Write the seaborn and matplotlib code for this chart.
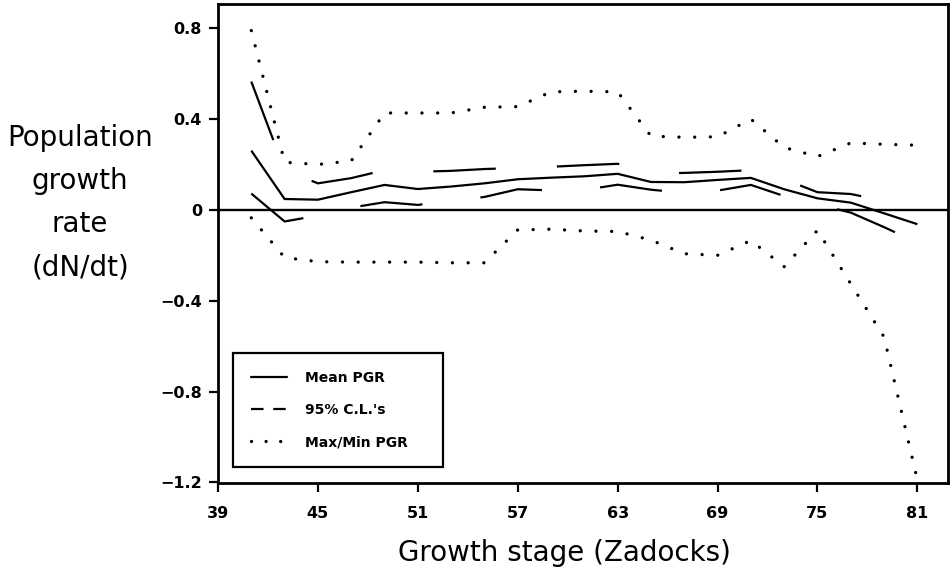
import matplotlib
matplotlib.use("Agg")
import matplotlib.pyplot as plt
from matplotlib.lines import Line2D
import seaborn as sns
import pandas as pd

# Zadocks growth stages at which the population growth rate was estimated
stage = [41, 43, 45, 47, 49, 51, 53, 55, 57, 59, 61, 63, 65, 67, 69, 71, 73, 75, 77, 79, 81]

mean_pgr = [0.261, 0.048, 0.045, 0.078, 0.110, 0.092, 0.103, 0.117, 0.135, 0.142, 0.148,
            0.159, 0.123, 0.122, 0.132, 0.141, 0.091, 0.051, 0.032, -0.015, -0.063]
upper_cl = [0.565, 0.175, 0.117, 0.140, 0.175, 0.168, 0.172, 0.180, 0.185, 0.190, 0.197,
            0.203, 0.160, 0.163, 0.168, 0.175, 0.135, 0.078, 0.070, 0.040, 0.010]
lower_cl = [0.072, -0.051, -0.025, 0.010, 0.034, 0.022, 0.040, 0.057, 0.091, 0.086, 0.088,
            0.111, 0.089, 0.075, 0.085, 0.110, 0.061, 0.025, -0.012, -0.076, -0.144]
max_pgr = [0.790, 0.210, 0.200, 0.216, 0.427, 0.427, 0.427, 0.452, 0.455, 0.520, 0.523,
           0.520, 0.325, 0.320, 0.322, 0.400, 0.275, 0.235, 0.295, 0.289, 0.285]
min_pgr = [-0.035, -0.210, -0.228, -0.230, -0.230, -0.230, -0.233, -0.233, -0.088, -0.085, -0.093,
           -0.095, -0.133, -0.193, -0.200, -0.135, -0.250, -0.090, -0.326, -0.560, -1.190]

x_ticks = [39, 45, 51, 57, 63, 69, 75, 81]
y_ticks = [0.8, 0.4, 0.0, -0.4, -0.8, -1.2]
y_tick_labels = ["0.8", "0.4", "0", "\u22120.4", "\u22120.8", "\u22121.2"]
legend_labels = ["Mean PGR", "95% C.L.'s", "Max/Min PGR"]

df = pd.DataFrame({"stage": stage, "mean": mean_pgr, "upper": upper_cl,
                   "lower": lower_cl, "max": max_pgr, "min": min_pgr})

sns.set_theme(style="ticks")
plt.rcParams["font.family"] = ["DejaVu Sans"]
plt.rcParams["lines.scale_dashes"] = False
plt.rcParams["text.color"] = "black"
plt.rcParams["axes.labelcolor"] = "black"
plt.rcParams["xtick.color"] = "black"
plt.rcParams["ytick.color"] = "black"

fig = plt.figure(figsize=(9.52, 5.72), dpi=100)
ax = fig.add_axes([0.229, 0.1556, 0.767, 0.8374])

lw = 1.6
dots = (0, (0.01, 11.3))

sns.lineplot(data=df, x="stage", y="mean", ax=ax, color="black", lw=lw,
             solid_capstyle="butt", legend=False)
sns.lineplot(data=df, x="stage", y="upper", ax=ax, color="black", lw=lw,
             linestyle=(0, (45, 44)), dash_capstyle="butt", legend=False)
sns.lineplot(data=df, x="stage", y="lower", ax=ax, color="black", lw=lw,
             linestyle=(0, (45, 42)), dash_capstyle="butt", legend=False)
for col in ["max", "min"]:
    sns.lineplot(data=df, x="stage", y=col, ax=ax, color="black", lw=2.4,
                 linestyle=dots, dash_capstyle="round", legend=False)

ax.axhline(0, color="black", lw=1.7, zorder=1)

ax.set_xlim(39, 82.85)
ax.set_ylim(-1.203, 0.907)
ax.set_xticks(x_ticks)
ax.set_xticklabels([str(t) for t in x_ticks])
ax.set_yticks(y_ticks)
ax.set_yticklabels(y_tick_labels)
ax.tick_params(axis="both", direction="out", length=6.5, width=1.6, color="black",
               labelsize=11.5, pad=5)
for lab in ax.get_xticklabels() + ax.get_yticklabels():
    lab.set_fontweight("bold")
ax.tick_params(axis="x", pad=10)

for sp in ax.spines.values():
    sp.set_visible(True)
    sp.set_linewidth(2.0)
    sp.set_color("black")

ax.set_xlabel("Growth stage (Zadocks)", fontsize=20, va="center")
ax.xaxis.set_label_coords(0.474, -0.146)
ax.set_ylabel("Population\ngrowth\nrate\n(dN/dt)", fontsize=20, rotation=0,
              ha="center", va="center", linespacing=1.7)
ax.yaxis.set_label_coords(-0.189, 0.585)

handles = [
    Line2D([], [], color="black", lw=lw, linestyle="-"),
    Line2D([], [], color="black", lw=lw, linestyle=(0, (9, 7)), dash_capstyle="butt"),
    Line2D([], [], color="black", lw=2.4, linestyle=(0, (0.01, 10.5)), dash_capstyle="round"),
]
leg = ax.legend(handles, legend_labels, loc="lower left",
                bbox_to_anchor=(0.0205, 0.0334, 0.288, 0.24), mode="expand",
                borderaxespad=0, borderpad=1.28, labelspacing=1.3,
                handlelength=2.6, handletextpad=1.3, fancybox=False,
                framealpha=1, edgecolor="black",
                prop={"weight": "bold", "size": 10})
leg.get_frame().set_linewidth(1.6)

fig.savefig("out.png", dpi=100)
